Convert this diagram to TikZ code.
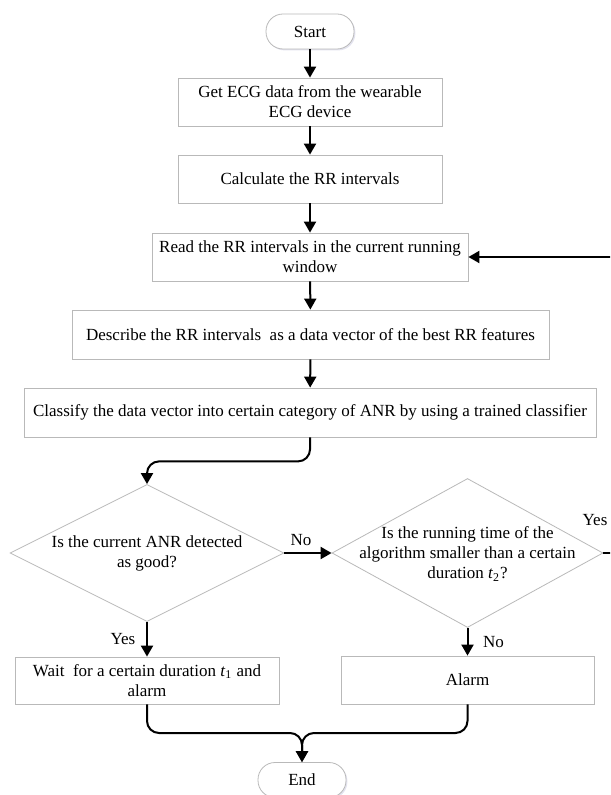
\documentclass[tikz,border=0pt]{standalone}
\usepackage{fontspec}
\setmainfont{Liberation Serif}
\usetikzlibrary{arrows.meta,shapes.geometric,shadows}

\begin{document}
\begin{tikzpicture}[x=0.5pt, y=-0.5pt, font=\fontsize{8.5}{10}\selectfont,
  box/.style={draw=gray!55, fill=white, align=center, inner sep=1pt,
    drop shadow={shadow xshift=0.7pt, shadow yshift=-0.7pt, fill=blue!25!gray!35, opacity=0.5}},
  term/.style={box, rounded corners=8.5pt, minimum width=44pt, minimum height=17.5pt},
  decision/.style={diamond, draw=gray!55, fill=white, inner sep=0pt},
  arr/.style={-{Triangle[width=6pt,length=5.5pt]}, line width=1pt}]
\useasboundingbox (0,0) rectangle (610,795);
\clip (0,0) rectangle (610,795);
% process column
\node [term] (start) at (310,31.5) {Start};
\node [box, minimum width=132pt, minimum height=24pt] (ecg) at (310,102) {Get ECG data from the wearable\\ECG device};
\node [box, minimum width=132pt, minimum height=24pt] (rr) at (310,179) {Calculate the RR intervals};
\node [box, minimum width=158pt, minimum height=24pt] (read) at (310,257) {Read the RR intervals in the current running\\window};
\node [box, minimum width=238.5pt, minimum height=24.5pt] (describe) at (310.5,334.5) {Describe the RR intervals\ \ as a data vector of the best RR features};
\node [box, minimum width=286pt, minimum height=24.5pt] (classify) at (310,412.5) {Classify the data vector into certain category of ANR by using a trained classifier};
% decisions
\node [decision, aspect=2, minimum width=137pt, minimum height=68.5pt] (d1) at (147,553) {};
\node [align=center] (d1txt) at (147,553.5) {Is the current ANR detected\\as good?};
\node [decision, aspect=1.82, minimum width=135.5pt, minimum height=74.5pt] (d2) at (467.5,553) {};
\node [align=center] (d2txt) at (467.5,554) {Is the running time of the\\algorithm smaller than a certain\\duration \textit{t}\textsubscript{2}?};
\node [box, minimum width=132pt, minimum height=23.5pt] (wait) at (147,680.5) {Wait\ \ for a certain duration \textit{t}\textsubscript{1} and\\alarm};
\node [box, minimum width=126.5pt, minimum height=24pt] (alarm) at (467.5,680) {Alarm};
\node [term] (end) at (302,780) {End};
\node (yes2) at (595,520) {Yes};
% connectors
\draw [arr] (start) -- (ecg);
\draw [arr] (ecg) -- (rr);
\draw [arr] (rr) -- (read);
\draw [arr] (read) -- (describe);
\draw [arr] (describe) -- (classify);
\draw [arr, rounded corners=6pt] (classify.south) -- ++(0,24) -| (d1.north);
\draw [arr] (d1.east) -- node [pos=0.35, above] {No} (d2.west);
\draw [arr] (d1.south) -- node [left=2pt] {Yes} (wait.north);
\draw [arr] (d2.south) -- node [right=4pt] {No} (alarm.north);
\coordinate (loopR) at (630,257);
\draw [arr] (d2.east) -| (loopR) -- (read.east);
\coordinate (mrg) at (302,733);
\draw [arr, rounded corners=6pt] (wait.south) |- (mrg) -- (end.north);
\draw [arr, rounded corners=6pt] (alarm.south) |- (mrg) -- (end.north);
\end{tikzpicture}
\end{document}
